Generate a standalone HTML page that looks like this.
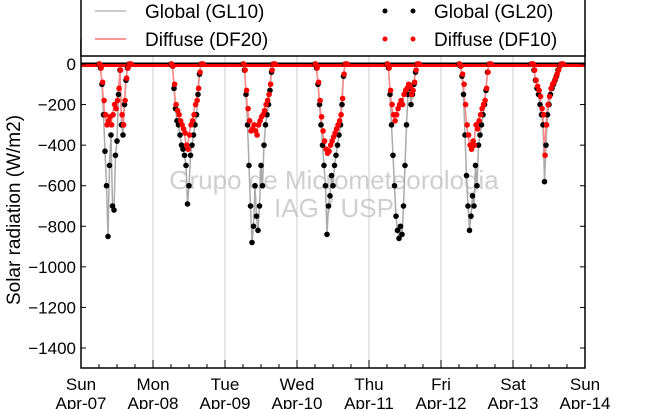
<!DOCTYPE html>
<html><head><meta charset="utf-8"><style>
body{margin:0;background:#fff}
svg{display:block;font-family:"Liberation Sans",sans-serif}
</style></head><body>
<svg id="c" width="650" height="409" viewBox="0 0 650 409">
<g id="grid"></g>
<text x="334" y="189" font-size="26" fill="#bbb" fill-opacity="0.7" text-anchor="middle">Grupo de Micrometeorologia</text>
<text x="334" y="217" font-size="26" fill="#bbb" fill-opacity="0.7" text-anchor="middle">IAG / USP</text>
<g id="marks"></g>
<g id="axes"></g>
<text transform="translate(20,210) rotate(-90)" font-size="19" text-anchor="middle">Solar radiation (W/m2)</text>
<g>
<rect x="81" y="-5" width="504" height="61" fill="#fff" stroke="#000" stroke-width="1.5"/>
<line x1="95" y1="11" x2="126" y2="11" stroke="#aaa" stroke-width="1.2"/>
<text x="145" y="18" font-size="19">Global (GL10)</text>
<line x1="95" y1="39" x2="126" y2="39" stroke="#f55" stroke-width="1.2"/>
<text x="145" y="46" font-size="19">Diffuse (DF20)</text>
<circle cx="385" cy="11" r="2.5" fill="#000"/>
<circle cx="413" cy="11" r="2.5" fill="#000"/>
<text x="434" y="18" font-size="19">Global (GL20)</text>
<circle cx="385" cy="39" r="2.5" fill="#f00"/>
<circle cx="413" cy="39" r="2.5" fill="#f00"/>
<text x="434" y="46" font-size="19">Diffuse (DF10)</text>
</g>
</svg>
<script>
const dayLabels=["Sun","Mon","Tue","Wed","Thu","Fri","Sat","Sun"];
const dateLabels=["Apr-07","Apr-08","Apr-09","Apr-10","Apr-11","Apr-12","Apr-13","Apr-14"];
const yTicks=[0,-200,-400,-600,-800,-1000,-1200,-1400];
const hours=[6,6.5,7,7.5,8,8.5,9,9.5,10,10.5,11,11.5,12,12.5,13,13.5,14,14.5,15,15.5,16,16.5];
const globalVals=[
[0,-20,-100,-250,-430,-600,-850,-500,-350,-700,-720,-450,-380,-150,-30,-300,-350,-200,-80,-20,0,0],
[0,-10,-120,-220,-280,-300,-350,-400,-420,-450,-500,-690,-600,-450,-400,-350,-300,-250,-150,-50,0,0],
[0,-30,-150,-300,-500,-700,-880,-800,-600,-750,-820,-700,-500,-600,-400,-300,-250,-200,-130,-40,0,0],
[0,-20,-100,-200,-300,-400,-500,-600,-840,-700,-650,-550,-600,-500,-450,-400,-350,-300,-200,-60,0,0],
[0,-20,-150,-300,-450,-600,-750,-820,-860,-800,-840,-700,-500,-300,-150,-120,-200,-150,-100,-40,0,0],
[0,-10,-60,-150,-350,-550,-700,-820,-750,-650,-700,-500,-600,-400,-350,-300,-250,-200,-130,-40,0,0],
[0,0,-30,-80,-120,-150,-200,-250,-300,-580,-400,-250,-200,-150,-120,-100,-80,-60,-30,-10,0,0]];
const diffuseVals=[
[0,-20,-90,-180,-250,-300,-280,-260,-300,-250,-200,-220,-180,-120,-30,-250,-300,-180,-70,-20,0,0],
[0,-10,-100,-200,-230,-250,-280,-300,-320,-340,-400,-420,-350,-300,-280,-250,-200,-180,-120,-40,0,0],
[0,-30,-130,-220,-280,-330,-320,-300,-330,-350,-300,-280,-260,-250,-230,-200,-180,-150,-100,-30,0,0],
[0,-20,-90,-180,-260,-330,-380,-420,-440,-430,-400,-380,-360,-340,-320,-300,-280,-250,-170,-50,0,0],
[0,-20,-130,-200,-250,-280,-250,-220,-200,-180,-200,-150,-130,-120,-100,-110,-150,-130,-90,-30,0,0],
[0,-10,-50,-100,-200,-300,-350,-400,-420,-380,-400,-300,-320,-280,-250,-220,-200,-180,-120,-40,0,0],
[0,0,-30,-80,-110,-130,-160,-220,-250,-450,-300,-200,-160,-120,-100,-90,-70,-50,-30,-10,0,0]];
const NS="http://www.w3.org/2000/svg";
const X0=81,X1=585,Y0=64,PPV=40.57/200;
function xs(d,h){return X0+(d+h/24)*(X1-X0)/7;}
function ys(v){return Y0-v*PPV;}
function mk(tag,attrs,parent){const e=document.createElementNS(NS,tag);for(const k in attrs)e.setAttribute(k,attrs[k]);parent.appendChild(e);return e;}
const grid=document.getElementById('grid'),marks=document.getElementById('marks'),axes=document.getElementById('axes');
for(let d=1;d<7;d++){const l=mk('line',{x1:xs(d,0),x2:xs(d,0),y1:56,y2:368,stroke:'#ccc','stroke-width':1},grid);

}
const zl=mk('line',{x1:X0,x2:X1,y1:ys(0),y2:ys(0),stroke:'#000','stroke-width':3},marks);


const zr=mk('line',{x1:X0,x2:X1,y1:ys(0)+1.5,y2:ys(0)+1.5,stroke:'#f00','stroke-width':3},marks);


for(let d=0;d<7;d++){
 const pg=hours.map((h,i)=>xs(d,h)+','+ys(globalVals[d][i])).join(' ');
 const lg=mk('polyline',{points:pg,fill:'none',stroke:'#aaa','stroke-width':1.5},marks);
 
 
 const pd=hours.map((h,i)=>xs(d,h)+','+ys(diffuseVals[d][i])).join(' ');
 const ld=mk('polyline',{points:pd,fill:'none',stroke:'#f88','stroke-width':1.5},marks);
 
 
}
for(let d=0;d<7;d++)hours.forEach((h,i)=>{
 const c=mk('circle',{cx:xs(d,h),cy:ys(globalVals[d][i]),r:2.8,fill:'#000'},marks);
 
 
});
for(let d=0;d<7;d++)hours.forEach((h,i)=>{
 const c=mk('circle',{cx:xs(d,h)+0.6,cy:ys(diffuseVals[d][i]),r:2.8,fill:'#f00'},marks);
 
 
});
const fr=mk('rect',{x:X0,y:40,width:X1-X0,height:328,fill:'none',stroke:'#000','stroke-width':1.5},axes);


yTicks.forEach(v=>{
 mk('line',{x1:X0,x2:X0+5,y1:ys(v),y2:ys(v),stroke:'#000'},axes);
 mk('line',{x1:X1-5,x2:X1,y1:ys(v),y2:ys(v),stroke:'#000'},axes);
 const t=mk('text',{x:76,y:ys(v)+6,'font-size':17,'text-anchor':'end'},axes);
 t.textContent=v===0?'0':'\u2212'+Math.abs(v);
 
 
});
for(let q=1;q<28;q++){const x=X0+q*(X1-X0)/28;mk('line',{x1:x,x2:x,y1:368,y2:q%4?364:360,stroke:'#000'},axes);}
dayLabels.forEach((s,d)=>{
 const t=mk('text',{x:xs(d,0),y:390,'font-size':17,'text-anchor':'middle'},axes);
 t.textContent=s;
 
 
 const t2=mk('text',{x:xs(d,0),y:409,'font-size':17,'text-anchor':'middle'},axes);
 t2.textContent=dateLabels[d];
 
 
});
</script>
</body></html>
